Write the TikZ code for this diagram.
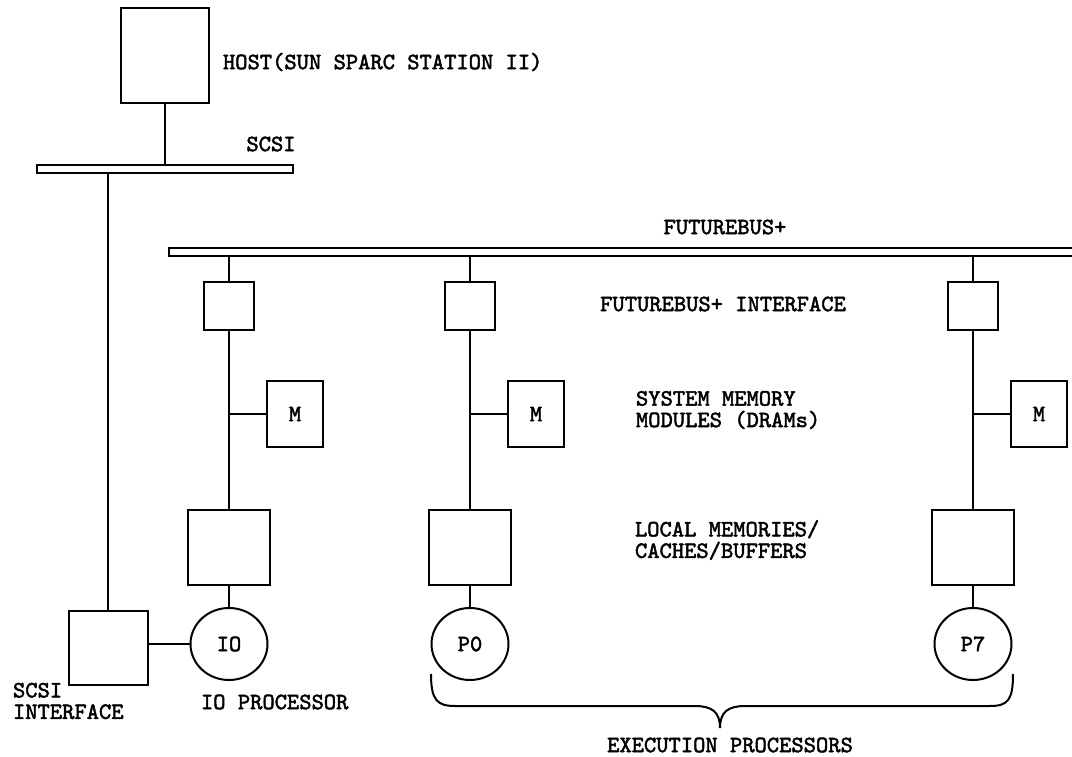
\documentclass[tikz,border=0pt]{standalone}
\usepackage{fontspec}
\newfontfamily\labfont{lmmono10-regular.otf}[FakeBold=2]
\usetikzlibrary{shapes.geometric}

\begin{document}
\begin{tikzpicture}[x=1pt, y=-1pt, line width=2pt,
  every node/.style={font=\labfont\fontsize{23.4}{21.5}\selectfont, inner sep=0pt},
  box/.style={draw, rectangle, fill=white},
  bus/.style={draw, rectangle, fill=white, minimum height=8pt},
  proc/.style={draw, ellipse, minimum width=77pt, minimum height=72pt}]

\useasboundingbox (0,0) rectangle (1072,757);
\clip (0,0) rectangle (1072,757);

% host and SCSI bus
\node[box, minimum width=88pt, minimum height=95pt] (host) at (165,55.5) {};
\node[bus, minimum width=256pt] (scsibus) at (165,169) {};
\node[box, minimum width=79pt, minimum height=74pt] (scsiif) at (108,648) {};

% Futurebus+ backplane, running off the right edge
\node[bus, minimum width=930pt, anchor=west] (fbus) at (168,252) {};

% processor columns
\foreach \c/\x/\lbl in {io/229/IO, p0/470/P0, p7/973/P7} {
  \node[box, minimum width=50pt, minimum height=48pt] (fi-\c) at (\x,306) {};
  \node[box, minimum width=56pt, minimum height=66pt] (m-\c) at (\x+66,414) {M};
  \node[box, minimum width=82pt, minimum height=75pt] (lm-\c) at (\x,547) {};
  \node[proc] (\c) at (\x,644) {\lbl};
  \draw (fi-\c.north |- fbus.south) -- (fi-\c.north);
  \draw (fi-\c.south) -- (lm-\c.north);
  \draw (m-\c.west) -- (m-\c.west -| fi-\c.south);
  \draw (lm-\c.south) -- (\c.north);
}

% SCSI connections
\draw (host.south) -- (host.south |- scsibus.north);
\draw (scsibus.south -| scsiif.north) -- (scsiif.north);
\draw (scsiif.east |- io.west) -- (io.west);

% brace under the execution processors
\draw (431,674) .. controls (431,700) and (437,706) .. (455,706) -- (695,706)
  .. controls (712,706) and (720,712) .. (720,728)
  .. controls (720,712) and (728,706) .. (745,706) -- (990,706)
  .. controls (1008,706) and (1013,700) .. (1013,674);

% labels
\node[anchor=west] (hostlbl) at (222,62) {HOST(SUN SPARC STATION II)};
\node (scsilbl) at (271,144) {SCSI};
\node (fbuslbl) at (725,227) {FUTUREBUS+};
\node (fiflbl) at (723,304) {FUTUREBUS+ INTERFACE};
\node[anchor=west, align=left] (smlbl) at (635,410) {SYSTEM MEMORY\\MODULES (DRAMs)};
\node[anchor=west, align=left] (lmlbl) at (634,540) {LOCAL MEMORIES/\\CACHES/BUFFERS};
\node[anchor=west, align=left] (siflbl) at (12,701) {SCSI\\INTERFACE};
\node[anchor=west] (iolbl) at (200,702) {IO PROCESSOR};
\node (eplbl) at (730,745) {EXECUTION PROCESSORS};
\end{tikzpicture}
\end{document}
